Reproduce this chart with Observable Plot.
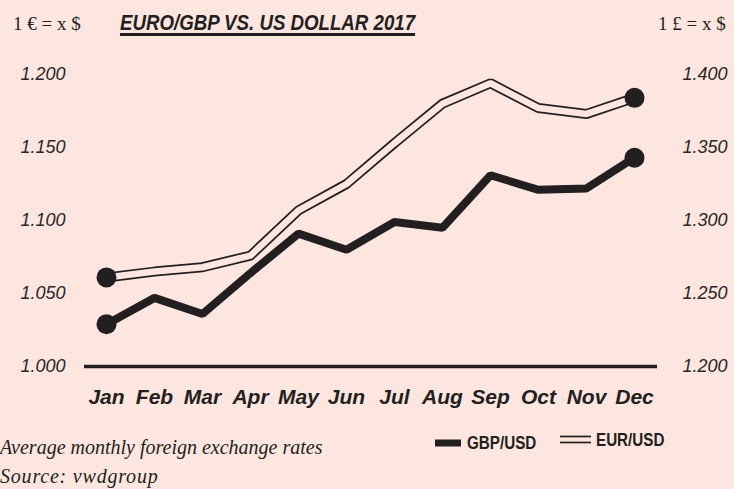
<!DOCTYPE html>
<html>
<head>
<meta charset="utf-8">
<script src="https://cdn.jsdelivr.net/npm/d3@7"></script>
<script src="https://cdn.jsdelivr.net/npm/@observablehq/plot@0.6"></script>
<style>
  html, body { margin: 0; padding: 0; background: #fde6df; }
  #wrap { position: relative; width: 734px; height: 489px; background: #fde6df; overflow: hidden; color: #231f20; }
  .abs { position: absolute; line-height: 1; white-space: nowrap; }
  .unit { font-family: "Liberation Serif", serif; font-size: 19px; top: 14px; }
  #title { left: 120px; top: 12px; font-family: "Liberation Sans", sans-serif; font-weight: bold; font-style: italic; font-size: 22.5px; text-decoration: underline; text-decoration-thickness: 2.5px; text-underline-offset: 3px; transform: scaleX(0.83); transform-origin: 0 0; }
  #plot { position: absolute; left: 0; top: 48px; }
  .cap { font-family: "Liberation Serif", serif; font-style: italic; font-size: 20px; left: 0; }
  .leg { font-family: "Liberation Sans", sans-serif; font-weight: bold; font-size: 19px; transform: scaleX(0.8); transform-origin: 0 0; }
</style>
</head>
<body>
<div id="wrap">
  <div class="abs unit" style="left:13px">1 € = x $</div>
  <div class="abs" id="title">EURO/GBP VS. US DOLLAR 2017</div>
  <div class="abs unit" style="left:658px">1 £ = x $</div>
  <div id="plot"></div>
  <div class="abs cap" style="top:437px">Average monthly foreign exchange rates</div>
  <div class="abs cap" style="top:466px; letter-spacing: 0.8px">Source: vwdgroup</div>
  <svg class="abs" style="left:435px; top:436px" width="26" height="14"><rect x="0" y="3.5" width="26" height="7" fill="#231f20"/></svg>
  <div class="abs leg" style="left:467px; top:433px">GBP/USD</div>
  <svg class="abs" style="left:560px; top:432px" width="31" height="14"><line x1="0" x2="31" y1="4.5" y2="4.5" stroke="#231f20" stroke-width="1.7"/><line x1="0" x2="31" y1="10.5" y2="10.5" stroke="#231f20" stroke-width="1.7"/></svg>
  <div class="abs leg" style="left:596px; top:430px">EUR/USD</div>
</div>
<script>
const months = ["Jan","Feb","Mar","Apr","May","Jun","Jul","Aug","Sep","Oct","Nov","Dec"];
const eurUsd = [1.061, 1.065, 1.068, 1.076, 1.107, 1.125, 1.153, 1.180, 1.194, 1.177, 1.173, 1.184];
const gbpUsd = [1.229, 1.247, 1.236, 1.264, 1.291, 1.280, 1.299, 1.295, 1.331, 1.321, 1.322, 1.343];
const leftTicks = [1.000, 1.050, 1.100, 1.150, 1.200];
const rightTicks = [1.200, 1.250, 1.300, 1.350, 1.400];
const rightOffset = 0.2; // GBP axis = EUR axis + 0.2

const ink = "#231f20";
const bg = "#fde6df";
const data = months.map((m, i) => ({month: m, eur: eurUsd[i], gbp: gbpUsd[i]}));
const ends = d => d.month === "Jan" || d.month === "Dec";

const chart = Plot.plot({
  width: 734,
  height: 372,
  marginTop: 26,
  marginBottom: 54,
  marginLeft: 84,
  marginRight: 77,
  style: {background: "transparent", color: ink, overflow: "visible"},
  x: {type: "point", domain: months, padding: 0, insetLeft: 18, insetRight: 19},
  y: {domain: [1.0, 1.2]},
  marks: [
    Plot.axisY(leftTicks, {anchor: "left", tickSize: 0, tickPadding: 19, tickFormat: d => d.toFixed(3),
      fontSize: 18, fontStyle: "italic", fontFamily: "Liberation Sans, sans-serif", fill: "#2b2728", label: null}),
    Plot.axisY(leftTicks, {anchor: "right", tickSize: 0, tickPadding: 25,
      tickFormat: (d, i) => rightTicks[i].toFixed(3),
      fontSize: 18, fontStyle: "italic", fontFamily: "Liberation Sans, sans-serif", fill: "#2b2728", label: null}),
    Plot.axisX({anchor: "bottom", tickSize: 0, tickPadding: 23, fontSize: 21, fontWeight: "bold", fontStyle: "italic",
      fontFamily: "Liberation Sans, sans-serif", fill: ink, label: null}),
    Plot.ruleY([1.0], {stroke: ink, strokeWidth: 3.5}),
    Plot.line(data, {x: "month", y: "eur", stroke: ink, strokeWidth: 10, strokeLinejoin: "miter"}),
    Plot.line(data, {x: "month", y: "eur", stroke: bg, strokeWidth: 6.5, strokeLinejoin: "miter"}),
    Plot.dot(data, {filter: ends, x: "month", y: "eur", r: 10, fill: ink}),
    Plot.line(data, {x: "month", y: d => d.gbp - rightOffset, stroke: ink, strokeWidth: 8, strokeLinejoin: "miter"}),
    Plot.dot(data, {filter: ends, x: "month", y: d => d.gbp - rightOffset, r: 10, fill: ink})
  ]
});
document.getElementById("plot").appendChild(chart);
</script>
</body>
</html>
